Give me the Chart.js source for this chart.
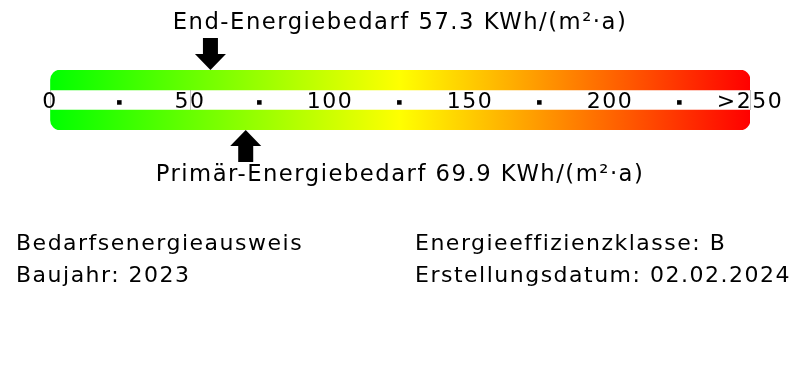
<!DOCTYPE html>
<html>
<head>
<meta charset="utf-8">
<title>Energieausweis</title>
<script src="https://cdn.jsdelivr.net/npm/chart.js@4"></script>
<style>
  body { margin: 0; background: #fff; }
  #wrap { position: relative; width: 800px; height: 380px; }
  .info { position: absolute; top: 227px; font-family: "DejaVu Sans", sans-serif; font-size: 22px; line-height: 32px; letter-spacing: 1.5px; color: #000; white-space: nowrap; }
</style>
</head>
<body>
<div id="wrap">
  <canvas id="energieChart" width="800" height="380"></canvas>
  <div class="info" id="infoLinks" style="left:16px"></div>
  <div class="info" id="infoRechts" style="left:415px"></div>
</div>
<script>
// werte aus dem ausweis
var skalaMin = 0;
var skalaMax = 250;
var skalaSchritt = 25;
var tickLabels = ['0', '■', '50', '■', '100', '■', '150', '■', '200', '■', '>250'];
var baender = ['oben', 'mitte', 'unten'];
var endEnergie = 57.3;
var primaerEnergie = 69.9;
var einheit = 'KWh/(m²·a)';
var infoLinks = ['Bedarfsenergieausweis', 'Baujahr: 2023'];
var infoRechts = ['Energieeffizienzklasse: B', 'Erstellungsdatum: 02.02.2024'];

var schrift = '"DejaVu Sans", sans-serif';

$ = function (id) { return document.getElementById(id); };
$('infoLinks').innerHTML = infoLinks.join('<br>');
$('infoRechts').innerHTML = infoRechts.join('<br>');

// farbverlauf gruen - gelb - rot
function verlauf(context) {
  var chart = context.chart;
  var area = chart.chartArea;
  if (!area) return '#ffff00';
  var g = chart.ctx.createLinearGradient(area.left, 0, area.right, 0);
  g.addColorStop(0, '#00ff00');
  g.addColorStop(0.5, '#ffff00');
  g.addColorStop(1, '#ff0000');
  return g;
}

// nur die aeusseren ecken rund
function ecken(context) {
  var r = 12;
  if (context.dataIndex === 0) return { topLeft: r, topRight: r, bottomLeft: 0, bottomRight: 0 };
  return { topLeft: 0, topRight: 0, bottomLeft: r, bottomRight: r };
}

// pfeil: spitze bei (x, y), richtung 1 = nach unten, -1 = nach oben
function pfeil(ctx, x, y, richtung) {
  var kopf = 16, schaft = 16, breite = 15.5, schaftBreite = 7.5;
  ctx.beginPath();
  ctx.moveTo(x, y);
  ctx.lineTo(x - breite, y - richtung * kopf);
  ctx.lineTo(x - schaftBreite, y - richtung * kopf);
  ctx.lineTo(x - schaftBreite, y - richtung * (kopf + schaft));
  ctx.lineTo(x + schaftBreite, y - richtung * (kopf + schaft));
  ctx.lineTo(x + schaftBreite, y - richtung * kopf);
  ctx.lineTo(x + breite, y - richtung * kopf);
  ctx.closePath();
  ctx.fill();
}

var pfeile = {
  id: 'pfeile',
  afterDatasetsDraw: function (chart) {
    var ctx = chart.ctx;
    var area = chart.chartArea;
    var x = chart.scales.x;
    ctx.save();
    ctx.fillStyle = '#000';
    pfeil(ctx, x.getPixelForValue(endEnergie), area.top, 1);
    pfeil(ctx, x.getPixelForValue(primaerEnergie), area.bottom, -1);
    ctx.restore();
  }
};

var sperrung = {
  id: 'sperrung',
  beforeInit: function (chart) { chart.ctx.letterSpacing = '1.5px'; },
  beforeDraw: function (chart) { chart.ctx.letterSpacing = '1.5px'; }
};

var ctx = $('energieChart').getContext('2d');
var energieChart = new Chart(ctx, {
  type: 'bar',
  data: {
    labels: baender,
    datasets: [{
      label: 'Skala',
      data: [[skalaMin, skalaMax], null, [skalaMin, skalaMax]],
      backgroundColor: verlauf,
      borderRadius: ecken,
      borderSkipped: false,
      barPercentage: 1,
      categoryPercentage: 1
    }]
  },
  options: {
    indexAxis: 'y',
    responsive: false,
    animation: false,
    events: [],
    layout: { padding: { left: 50, right: 50, top: 0, bottom: 0 } },
    scales: {
      y: {
        type: 'category',
        display: false,
        offset: true
      },
      x: {
        type: 'linear',
        min: skalaMin,
        max: skalaMax,
        position: { y: 0.5 },
        border: { display: false },
        grid: {
          drawOnChartArea: false,
          drawTicks: true,
          tickLength: 20,
          lineWidth: 1,
          color: function (c) {
            var v = c.tick ? c.tick.value : -1;
            return (v === 0 || v === 50 || v === 250) ? '#c4c4c4' : 'rgba(0,0,0,0)';
          }
        },
        ticks: {
          stepSize: skalaSchritt,
          autoSkip: false,
          maxRotation: 0,
          minRotation: 0,
          padding: -20.5,
          color: '#000',
          font: function (c) {
            var punkt = c.index % 2 === 1;
            return { family: schrift, size: punkt ? 6 : 22, lineHeight: '25px' };
          },
          callback: function (value, index) { return tickLabels[index]; }
        }
      }
    },
    plugins: {
      legend: { display: false },
      tooltip: { enabled: false },
      title: {
        display: true,
        text: 'End-Energiebedarf ' + endEnergie.toFixed(1) + ' ' + einheit,
        color: '#000',
        font: { family: schrift, size: 22.7, weight: 'normal', lineHeight: 1.2 },
        padding: { top: 9.3, bottom: 33.5 }
      },
      subtitle: {
        display: true,
        position: 'bottom',
        text: 'Primär-Energiebedarf ' + primaerEnergie.toFixed(1) + ' ' + einheit,
        color: '#000',
        font: { family: schrift, size: 22.7, weight: 'normal', lineHeight: 1.2 },
        padding: { top: 31.3, bottom: 191.5 }
      }
    }
  },
  plugins: [pfeile, sperrung]
});
</script>
</body>
</html>
